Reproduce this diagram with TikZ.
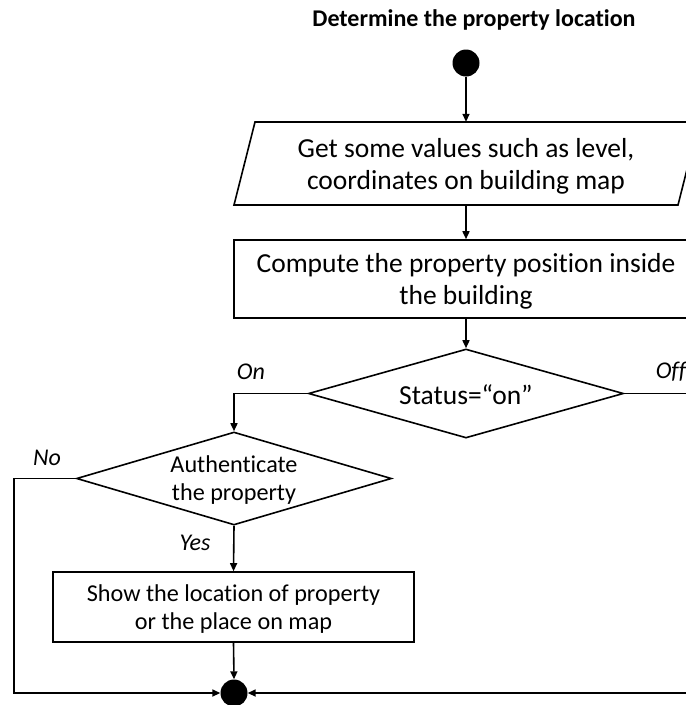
\documentclass[tikz,border=0pt]{standalone}
\usepackage{fontspec}
\setmainfont[Ligatures=CommonOff]{Carlito}
\usetikzlibrary{arrows.meta,shapes.geometric}

\tikzset{
  flow/.style={line width=1.6pt},
  arr/.style={flow,-{Triangle[length=8pt,width=7pt]}},
  dot/.style={circle,fill=black,draw=none,minimum size=27pt,inner sep=0pt},
  bigtext/.style={align=center,font=\fontsize{27.5}{32}\selectfont,inner sep=0pt},
  smalltext/.style={align=center,font=\fontsize{24.2}{28}\selectfont,inner sep=0pt},
  branch/.style={font=\fontsize{24}{28}\selectfont\itshape,inner sep=0pt},
  decision/.style={diamond,draw,flow,inner sep=0pt,minimum width=315pt},
  frame/.style={rectangle,inner sep=0pt},
}

\begin{document}
\begin{tikzpicture}[x=1pt,y=-1pt]
  \useasboundingbox (0,0) rectangle (686,705);
  \clip (0,0) rectangle (686,705);

  % title
  \node[font=\fontsize{24}{28}\selectfont\bfseries] (title) at (474,20)
    {Determine the property location};

  % start marker
  \node[dot] (start) at (466,63) {};

  % input parallelogram
  \node[frame,minimum width=444pt,minimum height=83pt] (input) at (466,163.5) {};
  \draw[flow] (234,205) -- (255,122) -- (699,122) -- (678,205) -- cycle;
  \node[bigtext] (inputtext) at (466,166)
    {Get some values such as level,\\coordinates on building map};

  % computation box
  \node[frame,draw,flow,minimum width=464pt,minimum height=78pt] (compute) at (466,279) {};
  \node[bigtext] (computetext) at (466,281)
    {Compute the property position inside\\the building};

  % status decision
  \node[decision,minimum height=89pt] (status) at (466,393.5) {};
  \node[bigtext] (statustext) at (466,395) {Status=“on”};

  % authentication decision
  \node[decision,minimum height=93pt] (auth) at (234,478.5) {};
  \node[smalltext] (authtext) at (234,480) {Authenticate\\the property};

  % result box
  \node[frame,draw,flow,minimum width=361pt,minimum height=70pt] (show) at (233.5,607) {};
  \node[smalltext] (showtext) at (233.5,609)
    {Show the location of property\\or the place on map};

  % end marker
  \node[dot] (end) at (234,693) {};

  % bends of the side routes
  \coordinate (nobend) at (14,478.5);
  \coordinate (offbend) at (720,393.5);

  % connectors
  \draw[arr] (start) -- (input.north);
  \draw[arr] (input.south) -- (compute.north);
  \draw[arr] (compute.south) -- (status.north);
  \draw[arr] (status.west) -| (auth.north);
  \draw[arr] (auth.south) -- (show.north);
  \draw[arr] (show.south) -- (end.north);
  \draw[arr] (auth.west) -- (nobend) |- (end.west);
  \draw[arr] (status.east) -- (offbend) |- (end.east);

  % branch labels
  \node[branch] (onlabel) at (251,372) {On};
  \node[branch] (offlabel) at (671,372) {Off};
  \node[branch] (nolabel) at (47,458) {No};
  \node[branch] (yeslabel) at (195,543) {Yes};
\end{tikzpicture}
\end{document}
